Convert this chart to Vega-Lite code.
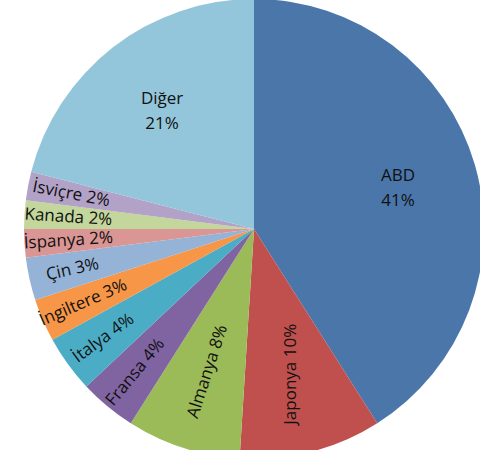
{
  "$schema": "https://vega.github.io/schema/vega-lite/v6.json",
  "width": 452,
  "height": 442,
  "autosize": {"type": "none"},
  "padding": {"left": 28, "top": 8, "right": 0, "bottom": 0},
  "background": "white",
  "config": {"view": {"stroke": null}},
  "data": {
    "values": [
      {"sira": 1, "ulke": "ABD", "deger": 41},
      {"sira": 2, "ulke": "Japonya", "deger": 10},
      {"sira": 3, "ulke": "Almanya", "deger": 8},
      {"sira": 4, "ulke": "Fransa", "deger": 4},
      {"sira": 5, "ulke": "İtalya", "deger": 4},
      {"sira": 6, "ulke": "İngiltere", "deger": 3},
      {"sira": 7, "ulke": "Çin", "deger": 3},
      {"sira": 8, "ulke": "İspanya", "deger": 2},
      {"sira": 9, "ulke": "Kanada", "deger": 2},
      {"sira": 10, "ulke": "İsviçre", "deger": 2},
      {"sira": 11, "ulke": "Diğer", "deger": 21}
    ]
  },
  "transform": [
    {"window": [{"op": "sum", "field": "deger", "as": "bitis"}], "sort": [{"field": "sira"}], "frame": [null, 0]},
    {"calculate": "datum.bitis - datum.deger", "as": "baslangic"},
    {"calculate": "datum.bitis - datum.deger / 2", "as": "orta"},
    {"calculate": "max(datum.orta * 3.6 - 270, -90)", "as": "aci"}
  ],
  "layer": [
    {
      "mark": {"type": "arc", "outerRadius": 230},
      "encoding": {
        "theta": {"field": "baslangic", "type": "quantitative", "scale": {"domain": [0, 100], "range": [0, 6.283185307179586]}},
        "theta2": {"field": "bitis"},
        "color": {
          "field": "ulke",
          "type": "nominal",
          "legend": null,
          "scale": {
            "domain": ["ABD", "Japonya", "Almanya", "Fransa", "İtalya", "İngiltere", "Çin", "İspanya", "Kanada", "İsviçre", "Diğer"],
            "range": ["#4a76aa", "#c0504d", "#9bbb59", "#8064a2", "#4bacc6", "#f79646", "#95b3d7", "#da9694", "#c3d69b", "#b3a2c7", "#93c6da"]
          }
        }
      }
    },
    {
      "transform": [
        {"filter": "datum.ulke === 'ABD' || datum.ulke === 'Diğer'"},
        {"calculate": "[datum.ulke, datum.deger + '%']", "as": "etiket"}
      ],
      "mark": {"type": "text", "radius": 150, "dy": -11, "font": "Open Sans", "fontSize": 17, "color": "#111111", "align": "center", "baseline": "middle", "lineHeight": 25},
      "encoding": {
        "theta": {"field": "orta", "type": "quantitative", "stack": null, "scale": {"domain": [0, 100], "range": [0, 6.283185307179586]}},
        "text": {"field": "etiket"}
      }
    },
    {
      "transform": [
        {"filter": "datum.ulke === 'Japonya' || datum.ulke === 'Almanya'"},
        {"calculate": "datum.ulke + ' ' + datum.deger + '%'", "as": "etiket"}
      ],
      "mark": {"type": "text", "radius": 150, "font": "Open Sans", "fontSize": 17, "color": "#111111", "align": "center", "baseline": "middle"},
      "encoding": {
        "theta": {"field": "orta", "type": "quantitative", "stack": null, "scale": {"domain": [0, 100], "range": [0, 6.283185307179586]}},
        "angle": {"field": "aci", "type": "quantitative", "scale": null},
        "text": {"field": "etiket"}
      }
    },
    {
      "transform": [
        {"filter": "datum.sira >= 4 && datum.sira <= 10"},
        {"calculate": "datum.ulke + ' ' + datum.deger + '%'", "as": "etiket"}
      ],
      "mark": {"type": "text", "radius": 186, "font": "Open Sans", "fontSize": 17, "color": "#111111", "align": "center", "baseline": "middle"},
      "encoding": {
        "theta": {"field": "orta", "type": "quantitative", "stack": null, "scale": {"domain": [0, 100], "range": [0, 6.283185307179586]}},
        "angle": {"field": "aci", "type": "quantitative", "scale": null},
        "text": {"field": "etiket"}
      }
    }
  ]
}
